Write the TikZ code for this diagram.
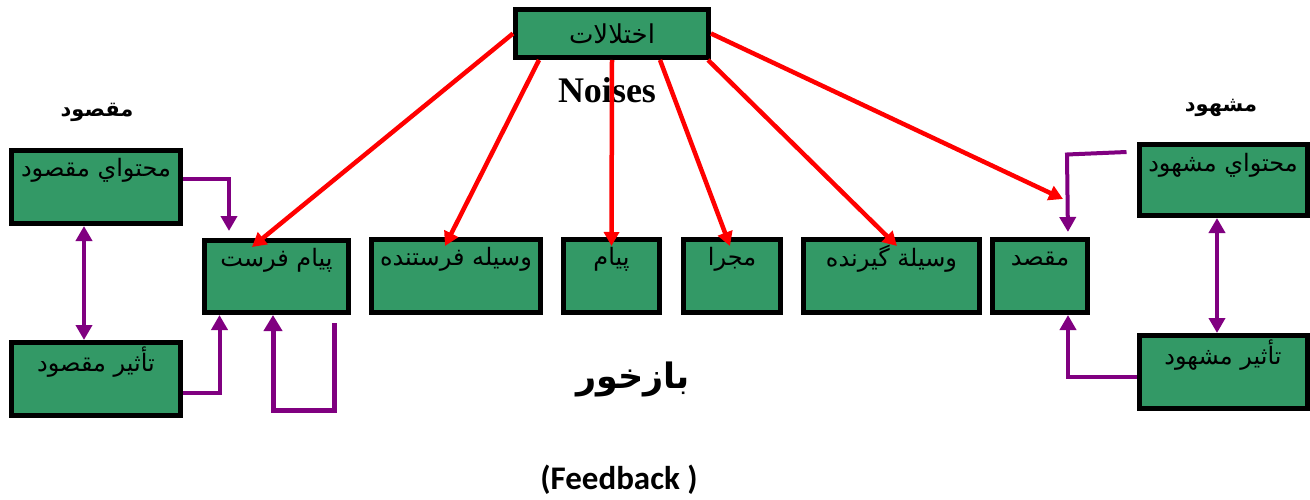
\documentclass[tikz,border=0pt]{standalone}
\usepackage{fontspec}
\usetikzlibrary{arrows.meta}
\TeXXeTstate=1
\newfontfamily\arabicfont[Script=Arabic]{DejaVu Sans}
\newfontfamily\timesfont{Liberation Serif}
\newfontfamily\calibrifont{Carlito}
\definecolor{boxgreen}{RGB}{51,153,102}
\definecolor{linkpurple}{RGB}{128,0,128}
\definecolor{noisered}{RGB}{255,0,0}
\newcommand{\fa}[1]{\arabicfont\beginR #1\endR}

\begin{document}
\begin{tikzpicture}[x=1pt,y=-1pt,
  box/.style={draw=black, line width=5pt, fill=boxgreen, inner sep=0pt},
  boxtext/.style={inner sep=0pt, font=\fontsize{24}{28}\selectfont},
  headtext/.style={inner sep=0pt, font=\fontsize{21}{25}\selectfont\bfseries},
  noise/.style={draw=noisered, line width=4.5pt, -{Triangle[width=15pt,length=14pt]}},
  link/.style={draw=linkpurple, line width=4pt, -{Triangle[width=16pt,length=15pt]}},
  twoway/.style={draw=linkpurple, line width=4pt, {Triangle[width=16pt,length=15pt]}-{Triangle[width=16pt,length=15pt]}}
]
\useasboundingbox (0,0) rectangle (1310,500);

% noise source
\node[box, minimum width=193pt, minimum height=48pt] (top) at (612,33.5) {};
\node[boxtext, font=\fontsize{26}{30}\selectfont] (toptext) at (top.center) {\fa{اختلالات}};
\node[inner sep=0pt, font=\timesfont\fontsize{36}{40}\selectfont\bfseries] (noises) at (607,90) {Noises};

% sender side
\node[headtext] (sendhead) at (97,112) {\fa{مقصود}};
\node[box, minimum width=169pt, minimum height=73pt] (mc) at (96,187) {};
\node[boxtext] (mctext) at ([yshift=-22.5pt]mc.north) {\fa{محتواي مقصود}};
\node[box, minimum width=169pt, minimum height=73pt] (tm) at (96,379) {};
\node[boxtext] (tmtext) at ([yshift=-22.5pt]tm.north) {\fa{تأثير مقصود}};

% chain of the message
\node[box, minimum width=144pt, minimum height=72pt] (pf) at (276.5,276.5) {};
\node[boxtext] (pftext) at ([yshift=-22pt]pf.north) {\fa{پيام فرست}};
\node[box, minimum width=169pt, minimum height=73pt] (vf) at (456,276) {};
\node[boxtext] (vftext) at ([yshift=-22pt]vf.north) {\fa{وسيله فرستنده}};
\node[box, minimum width=96pt, minimum height=73pt] (pa) at (611.5,276) {};
\node[boxtext] (patext) at ([yshift=-22pt]pa.north) {\fa{پيام}};
\node[box, minimum width=97pt, minimum height=73pt] (mj) at (732,276) {};
\node[boxtext] (mjtext) at ([yshift=-22pt]mj.north) {\fa{مجرا}};
\node[box, minimum width=176pt, minimum height=73pt] (vg) at (891.5,276) {};
\node[boxtext] (vgtext) at ([yshift=-22pt]vg.north) {\fa{وسيلة گيرنده}};
\node[box, minimum width=95pt, minimum height=73pt] (mq) at (1040,276) {};
\node[boxtext] (mqtext) at ([yshift=-22pt]mq.north) {\fa{مقصد}};

% receiver side
\node[headtext] (recvhead) at (1221,108) {\fa{مشهود}};
\node[box, minimum width=168pt, minimum height=71pt] (mm) at (1223,180) {};
\node[boxtext] (mmtext) at ([yshift=-23.5pt]mm.north) {\fa{محتواي مشهود}};
\node[box, minimum width=168pt, minimum height=73pt] (tmm) at (1223,372) {};
\node[boxtext] (tmmtext) at ([yshift=-22.5pt]tmm.north) {\fa{تأثير مشهود}};

% feedback caption
\node[inner sep=0pt, font=\fontsize{35}{40}\selectfont\bfseries] (fbfa) at (633,379) {\fa{بازخور}};
\node[inner sep=0pt, font=\calibrifont\fontsize{33}{38}\selectfont\bfseries] (fben) at (619,480) {(Feedback )};

% noise arrows
\draw[noise] (top.west) -- ([xshift=-24.5pt,yshift=-9pt]pf.north);
\draw[noise] ([xshift=-73pt]top.south) -- ([xshift=-11pt,yshift=-9pt]vf.north);
\draw[noise] (top.south) -- ([yshift=-9pt]pa.north);
\draw[noise] ([xshift=48pt]top.south) -- ([xshift=-2pt,yshift=-9pt]mj.north);
\draw[noise] ([xshift=-3pt]top.south east) -- ([xshift=5.5pt,yshift=-9pt]vg.north);
\draw[noise] (top.east) -- ([xshift=23pt,yshift=38pt]mq.north);

% sender links
\draw[link, shorten >=7pt] ([yshift=8pt]mc.east) -| ([xshift=-47.5pt]pf.north);
\draw[link] ([yshift=-14pt]tm.east) -| ([xshift=-57pt]pf.south);
\draw[twoway] ([xshift=-12pt]mc.south) -- ([xshift=-12pt]tm.north);
\draw[link, line width=5pt, -{Triangle[width=18pt,length=16pt]}]
  ([xshift=57.5pt,yshift=-8pt]pf.south) |- ([xshift=-3.5pt,yshift=-95.5pt]pf.south) -- ([xshift=-3.5pt]pf.south);

% receiver links
\draw[link, shorten >=5pt] ([xshift=-10pt,yshift=28pt]mm.west) -- ([xshift=27pt,yshift=82.5pt]mq.north) -- ([xshift=28pt]mq.north);
\draw[link] ([yshift=-5pt]tmm.west) -| ([xshift=28pt]mq.south);
\draw[twoway] ([xshift=-6pt]mm.south) -- ([xshift=-6pt]tmm.north);
\end{tikzpicture}
\end{document}
